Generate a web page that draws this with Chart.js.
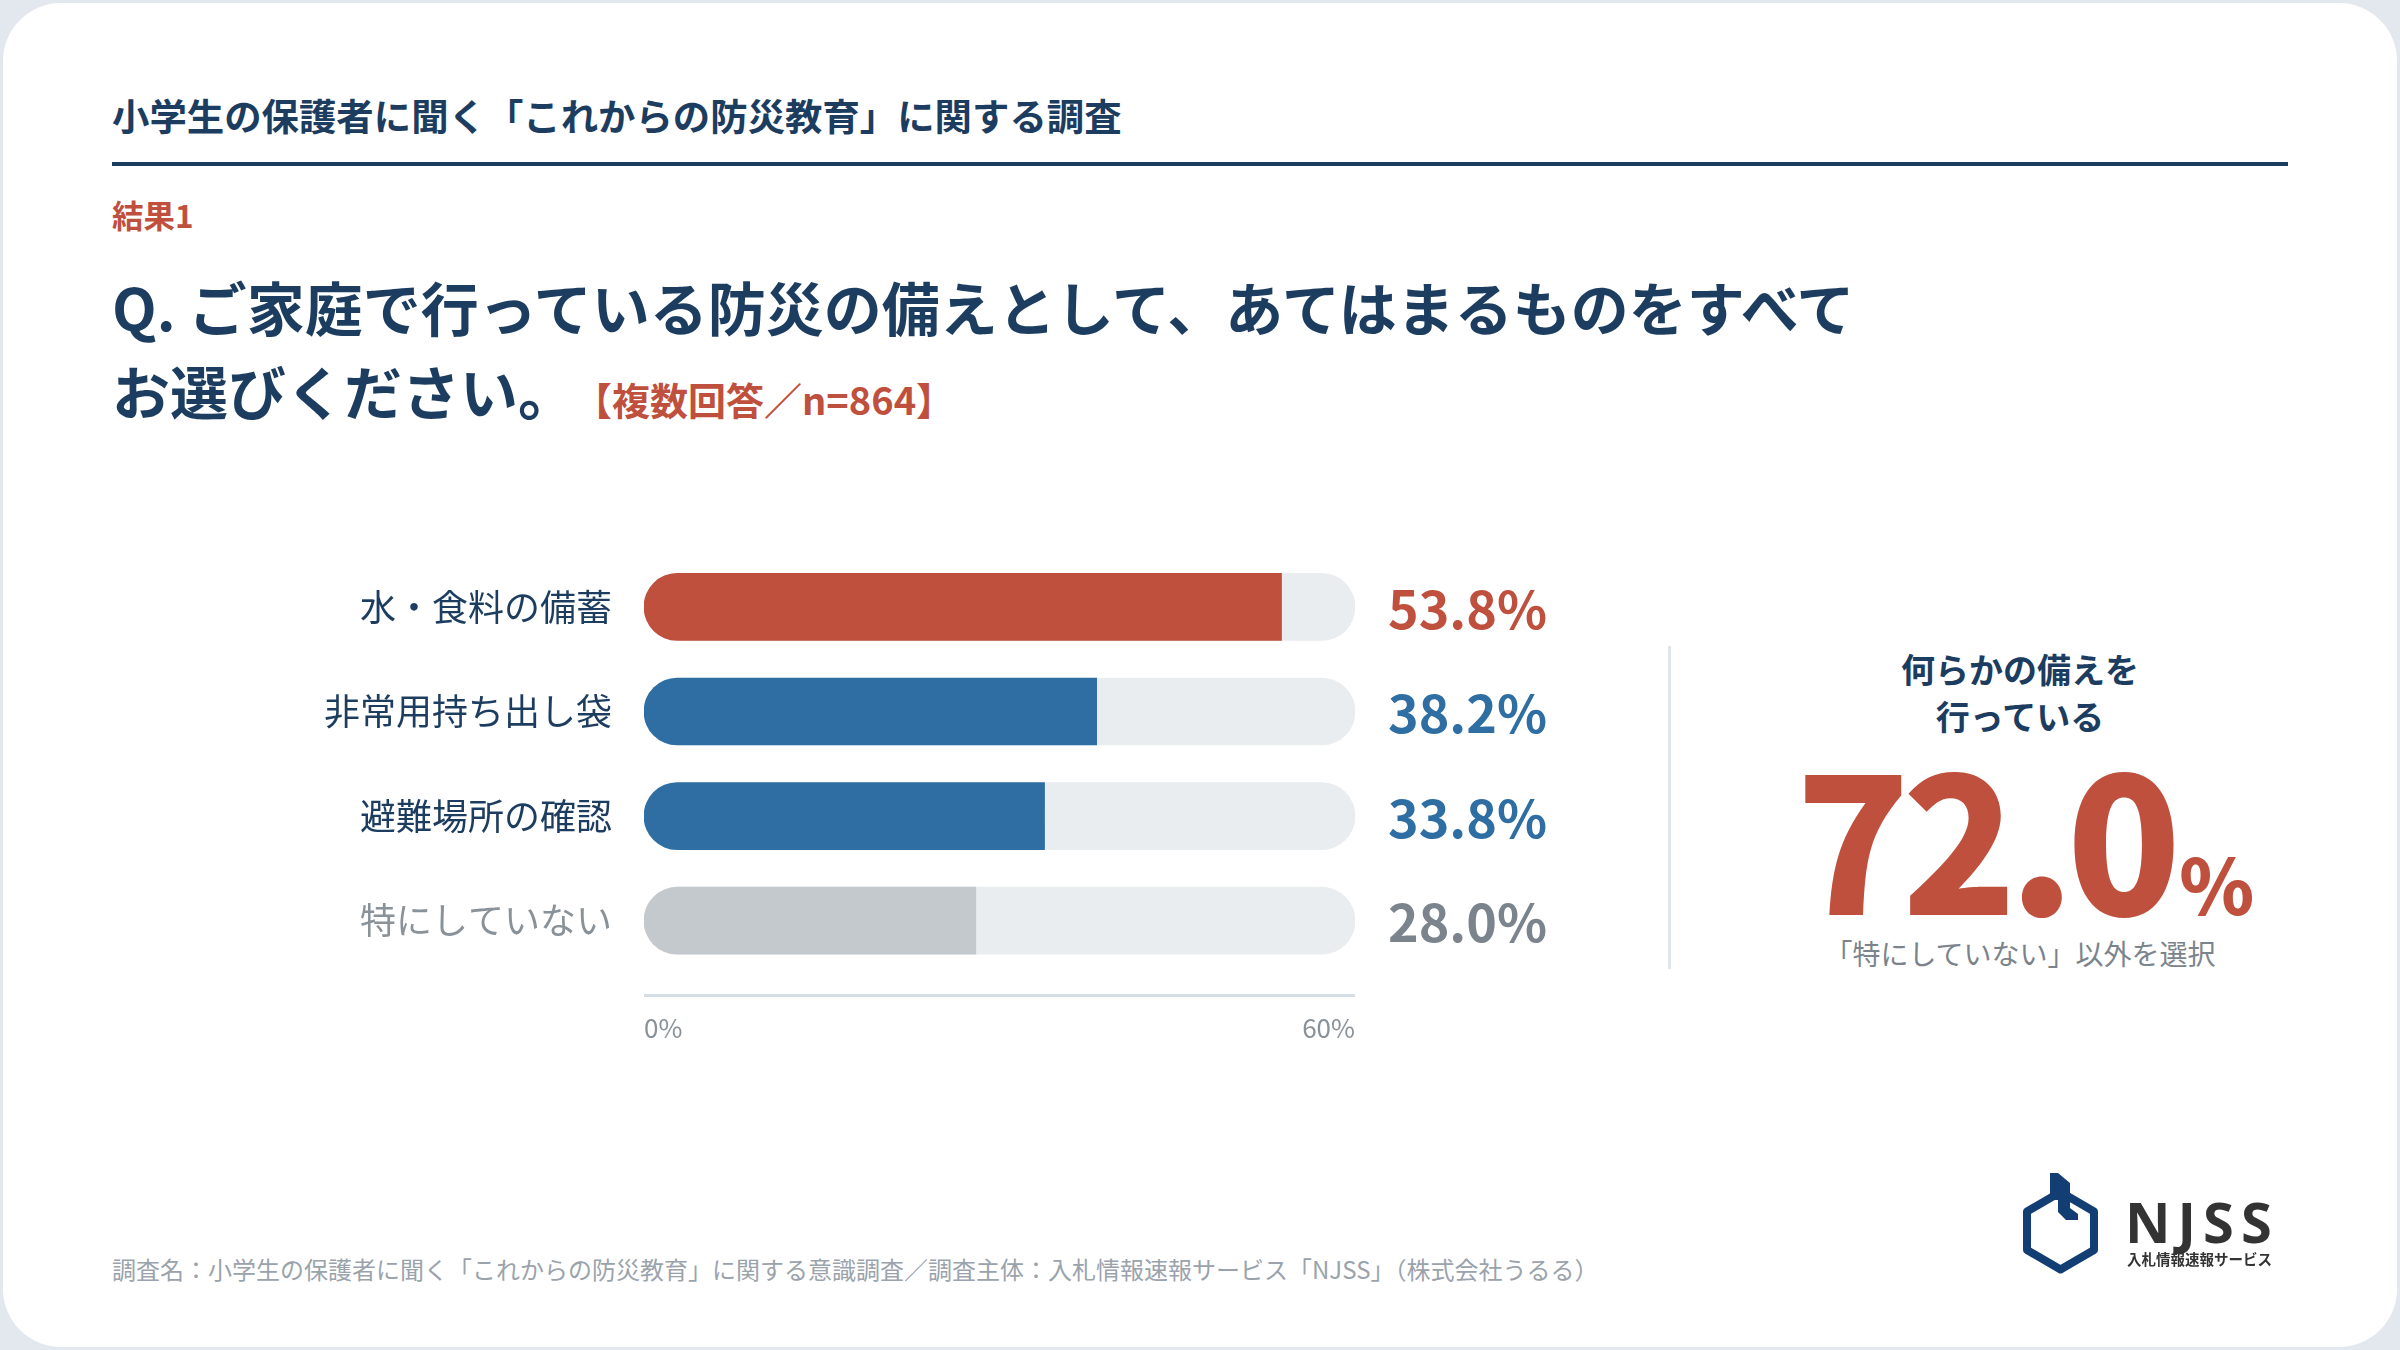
<!DOCTYPE html>
<html lang="ja">
<head>
<meta charset="utf-8">
<script src="https://cdn.jsdelivr.net/npm/chart.js@4"></script>
<style>
  html, body { margin: 0; padding: 0; }
  body {
    width: 2400px; height: 1350px; position: relative; overflow: hidden;
    background: #e2e8ee;
    font-family: "Noto Sans CJK JP", "Noto Sans", sans-serif;
    color: #1c3d5f;
  }
  .card {
    position: absolute; left: 3px; top: 3px; width: 2394px; height: 1344px;
    background: #fff; border-radius: 58px;
  }
  .abs { position: absolute; white-space: nowrap; line-height: 1; }
  #chartBox { position: absolute; left: 100px; top: 508.5px; width: 1500px; height: 571.5px; }
</style>
</head>
<body>
<div class="card"></div>

<div class="abs" style="left:112px;top:97px;font-size:37.4px;font-weight:700;">小学生の保護者に聞く「これからの防災教育」に関する調査</div>
<div class="abs" style="left:112px;top:162px;width:2176px;height:4px;background:#1c3d5f;"></div>
<div class="abs" style="left:112px;top:199px;font-size:31.5px;font-weight:700;color:#c0503e;">結果1</div>
<div class="abs" style="left:112px;top:277px;font-size:58px;font-weight:700;">Q. ご家庭で行っている防災の備えとして、あてはまるものをすべて</div>
<div class="abs" style="left:112px;top:361px;font-size:58px;font-weight:700;">お選びください。<span style="font-size:38px;color:#c0503e;margin-left:17px;">【複数回答／n=864】</span></div>

<div id="chartBox"><canvas id="prepChart"></canvas></div>

<div class="abs" style="left:1668px;top:646px;width:3px;height:323px;background:#e1e6eb;"></div>
<div class="abs" style="left:1820px;width:400px;top:645px;text-align:center;font-size:34px;font-weight:700;line-height:47px;">何らかの備えを<br>行っている</div>
<div class="abs" style="left:1720px;width:610px;top:739px;text-align:center;color:#c0503e;font-weight:900;font-size:188px;letter-spacing:-8px;line-height:188px;">72.0<span style="font-size:76px;letter-spacing:0;margin-left:6px;">%</span></div>
<div class="abs" style="left:1770px;width:500px;top:939px;text-align:center;font-size:28px;color:#7b848c;">「特にしていない」以外を選択</div>

<div class="abs" style="left:112px;top:1257px;font-size:24px;color:#9aa3ab;">調査名：小学生の保護者に聞く「これからの防災教育」に関する意識調査／調査主体：入札情報速報サービス「NJSS」（株式会社うるる）</div>

<svg class="abs" style="left:0;top:0;" width="2400" height="1350">
  <polygon points="2060.5,1192 2094,1211.5 2094,1250 2060.5,1269.5 2027,1250 2027,1211.5"
           fill="none" stroke="#123e73" stroke-width="8" stroke-linejoin="round"/>
  <path d="M2050,1173 L2058,1173 L2070,1183 L2070,1208 L2078,1214 L2078,1220 L2066,1220 L2058,1212 L2058,1200 L2050,1200 Z" fill="#123e73"/>
</svg>
<div class="abs" style="left:2125px;top:1193px;font-family:'Noto Sans',sans-serif;font-size:56px;font-weight:700;letter-spacing:7px;color:#333;">NJSS</div>
<div class="abs" style="left:2127px;top:1252px;font-size:14.5px;font-weight:700;color:#333;">入札情報速報サービス</div>

<script>
// ===== データ =====
const categories = ["水・食料の備蓄", "非常用持ち出し袋", "避難場所の確認", "特にしていない"];
const shares = [53.8, 38.2, 33.8, 28.0];
const barColors = ["#c0503e", "#2f6ea3", "#2f6ea3", "#c4c9cd"];
const valueColors = ["#c0503e", "#2f6ea3", "#2f6ea3", "#7b848c"];
const labelColors = ["#1c3d5f", "#1c3d5f", "#1c3d5f", "#8a9299"];
const axisTicks = [0, 60];

const axisMax = axisTicks[axisTicks.length - 1];
const FONT = "'Noto Sans CJK JP', 'Noto Sans', sans-serif";

// 値ラベルと下の軸線
const valueLabels = {
    id: "valueLabels",
    afterDatasetsDraw(chart) {
        const ctx = chart.ctx;
        const area = chart.chartArea;
        const meta = chart.getDatasetMeta(0);

        ctx.save();
        ctx.font = `700 52px ${FONT}`;
        ctx.textAlign = "left";
        ctx.textBaseline = "middle";
        meta.data.forEach((bar, i) => {
            ctx.fillStyle = valueColors[i];
            ctx.fillText(shares[i].toFixed(1) + "%", area.right + 33, bar.y + 2);
        });

        ctx.strokeStyle = "#d5dde5";
        ctx.lineWidth = 3;
        ctx.beginPath();
        ctx.moveTo(area.left, area.bottom + 22.5);
        ctx.lineTo(area.right, area.bottom + 22.5);
        ctx.stroke();
        ctx.restore();
    }
};

new Chart(document.getElementById("prepChart"), {
    type: "bar",
    data: {
        labels: categories,
        datasets: [
            {
                data: shares,
                backgroundColor: barColors,
                barThickness: 67,
                grouped: false,
                borderSkipped: false,
                borderRadius: { topLeft: 34, bottomLeft: 34, topRight: 0, bottomRight: 0 }
            },
            {
                data: categories.map(() => axisMax),
                backgroundColor: "#e9edf0",
                barThickness: 67,
                grouped: false,
                borderSkipped: false,
                borderRadius: 34
            }
        ]
    },
    options: {
        indexAxis: "y",
        responsive: true,
        maintainAspectRatio: false,
        animation: false,
        layout: { padding: { top: 0, right: 245, bottom: 27.5, left: 0 } },
        plugins: {
            legend: { display: false },
            tooltip: { enabled: false }
        },
        scales: {
            x: {
                min: 0,
                max: axisMax,
                grid: { display: false },
                border: { display: false },
                afterBuildTicks: (scale) => {
                    scale.ticks = axisTicks.map(v => ({ value: v }));
                },
                afterFit: (scale) => { scale.height = 80; },
                ticks: {
                    align: "inner",
                    padding: 32,
                    color: "#8a9299",
                    font: { family: FONT, size: 26 },
                    callback: (v) => v + "%"
                }
            },
            y: {
                grid: { display: false },
                border: { display: false },
                afterFit: (scale) => { scale.width = 544; },
                ticks: {
                    padding: 24,
                    color: (ctx) => labelColors[ctx.index],
                    font: { family: FONT, size: 36 }
                }
            }
        }
    },
    plugins: [valueLabels]
});
</script>
</body>
</html>
